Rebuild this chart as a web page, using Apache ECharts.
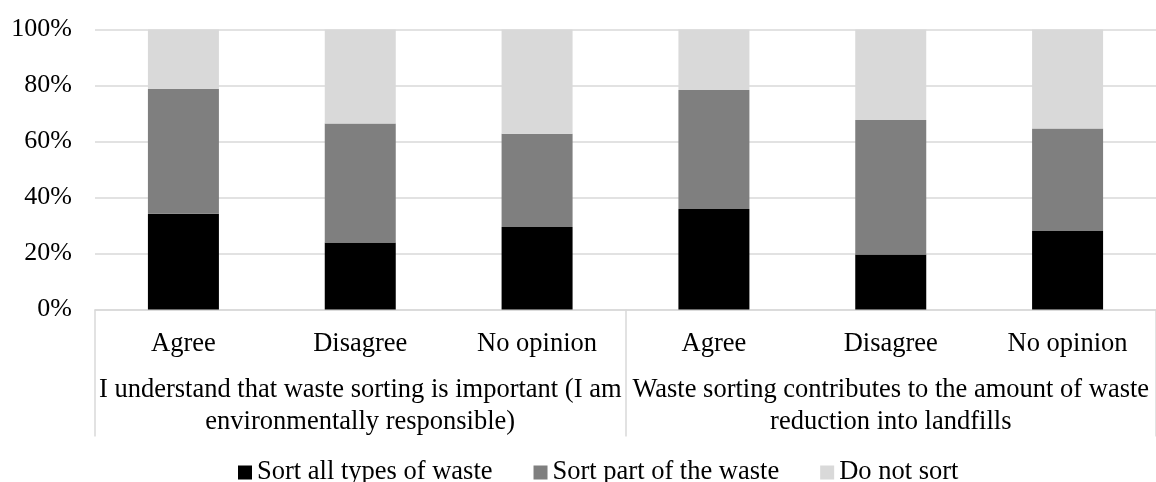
<!DOCTYPE html>
<html>
<head>
<meta charset="utf-8">
<script src="https://cdn.jsdelivr.net/npm/echarts@6/dist/echarts.min.js"></script>
<style>
  html, body { margin: 0; padding: 0; background: #fff; }
  #chart { width: 1156px; height: 482px; }
</style>
</head>
<body>
<div id="chart"></div>
<script>
// answers per bar, grouped by the statement
const answers = ['Agree', 'Disagree', 'No opinion', 'Agree', 'Disagree', 'No opinion'];
const statements = [
  'I understand that waste sorting is important (I am\nenvironmentally responsible)',
  'Waste sorting contributes to the amount of waste\nreduction into landfills'
];
const seriesNames = ['Sort all types of waste', 'Sort part of the waste', 'Do not sort'];
// shares in %
const sortAll = [34.2, 23.9, 29.5, 35.9, 19.6, 28.0];
const sortPart = [44.6, 42.5, 33.3, 42.5, 48.1, 36.6];
const notSort = [21.2, 33.6, 37.2, 21.6, 32.3, 35.4];
const yTicks = [0, 20, 40, 60, 80, 100];

const font = 'Liberation Serif';
const lineGray = '#d9d9d9';

const chart = echarts.init(document.getElementById('chart'));

function bar(name, data, color) {
  return {
    name: name,
    type: 'bar',
    stack: 'total',
    data: data,
    barWidth: 71,
    itemStyle: { color: color },
    emphasis: { disabled: true }
  };
}

chart.setOption({
  animation: false,
  textStyle: { fontFamily: font },
  grid: { left: 95, right: -12.4, top: 29.5, bottom: 172.5 },
  legend: {
    bottom: -9,
    left: 233,
    itemWidth: 14,
    itemHeight: 14,
    itemGap: 41,
    icon: 'rect',
    textStyle: { fontFamily: font, fontSize: 26.5, color: '#000' },
    data: seriesNames
  },
  xAxis: [
    {
      type: 'category',
      data: answers,
      position: 'bottom',
      axisLine: { lineStyle: { color: lineGray, width: 1.5 } },
      axisTick: { show: false },
      axisLabel: { interval: 0, margin: 21, fontFamily: font, fontSize: 26.5, color: '#000' }
    },
    {
      type: 'category',
      data: statements,
      position: 'bottom',
      axisLine: { show: false },
      axisTick: { show: true, length: 127, lineStyle: { color: lineGray, width: 1.5 } },
      axisLabel: { interval: 0, margin: 65, fontFamily: font, fontSize: 26.5, lineHeight: 32, color: '#000', align: 'center' }
    }
  ],
  yAxis: {
    type: 'value',
    min: yTicks[0],
    max: yTicks[yTicks.length - 1],
    interval: 20,
    axisLine: { show: false },
    axisTick: { show: false },
    splitLine: { lineStyle: { color: lineGray, width: 1.5 } },
    axisLabel: { formatter: '{value}%', margin: 23, fontFamily: font, fontSize: 26, color: '#000' }
  },
  series: [
    bar(seriesNames[0], sortAll, '#000000'),
    bar(seriesNames[1], sortPart, '#7f7f7f'),
    bar(seriesNames[2], notSort, '#d9d9d9')
  ]
});
</script>
</body>
</html>
